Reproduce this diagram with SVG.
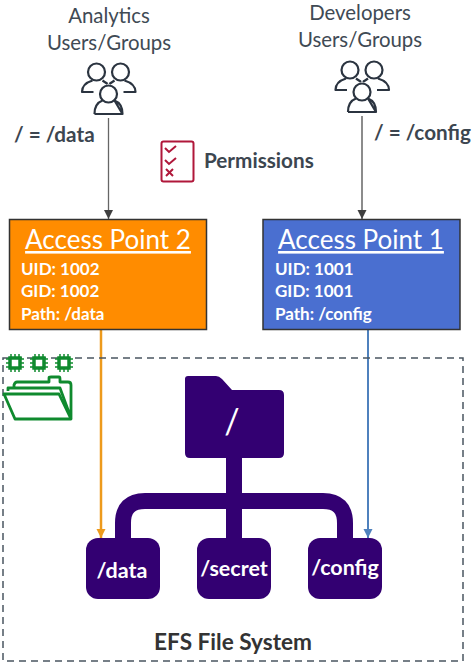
<svg xmlns="http://www.w3.org/2000/svg" width="474" height="667" viewBox="0 0 474 667">
<defs>
<style>
text{font-family:Lato,"Open Sans",sans-serif}
.gr{fill:#404a54;font-size:20.400px;text-anchor:middle}
.lb{fill:#3c4650;font-size:20.700px;font-weight:700}
.t{fill:#fff;font-size:26px;text-anchor:middle;text-decoration:underline}
.d{fill:#fff;font-size:17px;font-weight:700}
.f{fill:#fff;font-size:21.500px;font-weight:700;text-anchor:middle}
.p{fill:#330072}
.u{fill:none;stroke:#2b3440;stroke-width:2.200;stroke-linejoin:round}
.chip{fill:none;stroke:#0f8a2e;stroke-width:3.500}
.pin{fill:none;stroke:#0f8a2e;stroke-width:1.500}
</style>
<marker id="ag" markerWidth="10" markerHeight="10" refX="9" refY="5" orient="auto" markerUnits="userSpaceOnUse"><path d="M0 0.500L9 5L0 9.500Z" fill="#3f3f3f"/></marker>
<marker id="ao" markerWidth="10" markerHeight="10" refX="9" refY="5" orient="auto" markerUnits="userSpaceOnUse"><path d="M0 0.500L9 5L0 9.500Z" fill="#ed9a1c"/></marker>
<marker id="ab" markerWidth="10" markerHeight="10" refX="9" refY="5" orient="auto" markerUnits="userSpaceOnUse"><path d="M0 0.500L9 5L0 9.500Z" fill="#4f81bd"/></marker>
<g id="users">
<circle cx="-12" cy="-20" r="8.500" class="u"/><circle cx="12" cy="-20" r="8.500" class="u"/>
<path class="u" d="M-15 0H-26.500C-26.500 -7 -21 -10 -16 -11.500M15 0H27C27 -7 21 -10 16 -11.500M-6 -11.500C-4 -10 -2 -9 -1 -8M6 -11.500C4 -10 2 -9 1 -8"/>
<circle cx="0" cy="2" r="8.500" class="u"/>
<path class="u" d="M-14 22C-14 14 -10 10 -6 8.500M6 8.500C10 10 14 14 14 22Z M-14 22H14"/>
</g>
<g id="chip">
<rect x="-5" y="-5" width="10" height="10" class="chip"/>
<path class="pin" d="M-9 -4H-6M-9 0H-6M-9 4H-6M6 -4H9M6 0H9M6 4H9M-4 -9V-6M0 -9V-6M4 -9V-6M-4 6V9M0 6V9M4 6V9"/>
</g>
</defs>
<rect width="474" height="667" fill="#fff"/>
<g id="connectors" fill="none">
<path d="M108.500 118V219" stroke="#666" stroke-width="1.300" marker-end="url(#ag)"/>
<path d="M362 116V219" stroke="#666" stroke-width="1.500" marker-end="url(#ag)"/>
<path d="M101 330V538" stroke="#ed9a1c" stroke-width="2.500" marker-end="url(#ao)"/>
<path d="M368 330V538" stroke="#4f81bd" stroke-width="2" marker-end="url(#ab)"/>
</g>
<g id="efs-boundary"><rect x="3" y="358" width="460" height="303" fill="none" stroke="#4a5560" stroke-width="1.500" stroke-dasharray="7 5"/></g>
<g id="analytics"><text class="gr" x="109" y="23">Analytics</text><text class="gr" x="109" y="50">Users/Groups</text><use href="#users" x="108.500" y="92"/></g>
<g id="developers"><text class="gr" x="360" y="20">Developers</text><text class="gr" x="360" y="47">Users/Groups</text><use href="#users" x="362" y="90"/></g>
<g id="label-data"><text class="lb" x="14" y="142">/ = /data</text></g>
<g id="label-config"><text class="lb" x="374" y="140">/ = /config</text></g>
<g id="permissions"><rect x="161.500" y="141.500" width="32" height="40" rx="2" fill="none" stroke="#b0173a" stroke-width="2"/><path d="M165 148l4 4 7-6M165 160l4 4 7-6" fill="none" stroke="#b0173a" stroke-width="2"/><path d="M166 169l7 7M173 169l-7 7" stroke="#b0173a" stroke-width="2"/><text class="lb" x="204" y="168">Permissions</text></g>
<g id="ap2"><rect x="9.500" y="219.500" width="197" height="110" fill="#ff8c00" stroke="#333" stroke-width="1.500"/><text class="t" x="108" y="249">Access Point 2</text><text class="d" x="21" y="275">UID: 1002</text><text class="d" x="21" y="297">GID: 1002</text><text class="d" x="21" y="320">Path: /data</text></g>
<g id="ap1"><rect x="263" y="219.500" width="197" height="110" fill="#4a6fd0" stroke="#333" stroke-width="1.500"/><text class="t" x="361" y="249">Access Point 1</text><text class="d" x="275" y="275">UID: 1001</text><text class="d" x="275" y="297">GID: 1001</text><text class="d" x="275" y="320">Path: /config</text></g>
<g id="chips"><use href="#chip" x="15" y="363"/><use href="#chip" x="39" y="363"/><use href="#chip" x="64" y="363"/></g>
<g id="folder-green" fill="none" stroke="#0f8a2e" stroke-width="2.800" stroke-linejoin="round"><path d="M4 394L15 419H71L59 394Z"/><path d="M8 391V388H60L71 418V385"/><path d="M14 388V385Q15 382 17 382H49V378Q49 377 51 377H59Q60 377 60 379V382H68Q71 382 71 385"/></g>
<g id="root-folder"><path class="p" d="M188 376H216Q219 376 222 379L232 390H279Q284 390 284 395V453Q284 458 279 458H190Q185 458 185 453V379Q185 376 188 376Z"/><text x="232" y="434" text-anchor="middle" style="font-size:34px;fill:#fff">/</text></g>
<g id="tree"><path d="M234 457V540M123 541V523Q123 501 145 501H323Q345 501 345 523V541" fill="none" stroke="#330072" stroke-width="16"/></g>
<g id="data"><rect x="86" y="538" width="74" height="61" rx="12" class="p"/><text class="f" x="122" y="578">/data</text></g>
<g id="secret"><rect x="197" y="538" width="74" height="61" rx="12" class="p"/><text class="f" x="234" y="576">/secret</text></g>
<g id="config"><rect x="308" y="538" width="74" height="61" rx="12" class="p"/><text class="f" x="345" y="575">/config</text></g>
<g id="efs-label"><text x="233" y="650" text-anchor="middle" style="font-size:22.600px;font-weight:700;fill:#333">EFS File System</text></g>
</svg>
